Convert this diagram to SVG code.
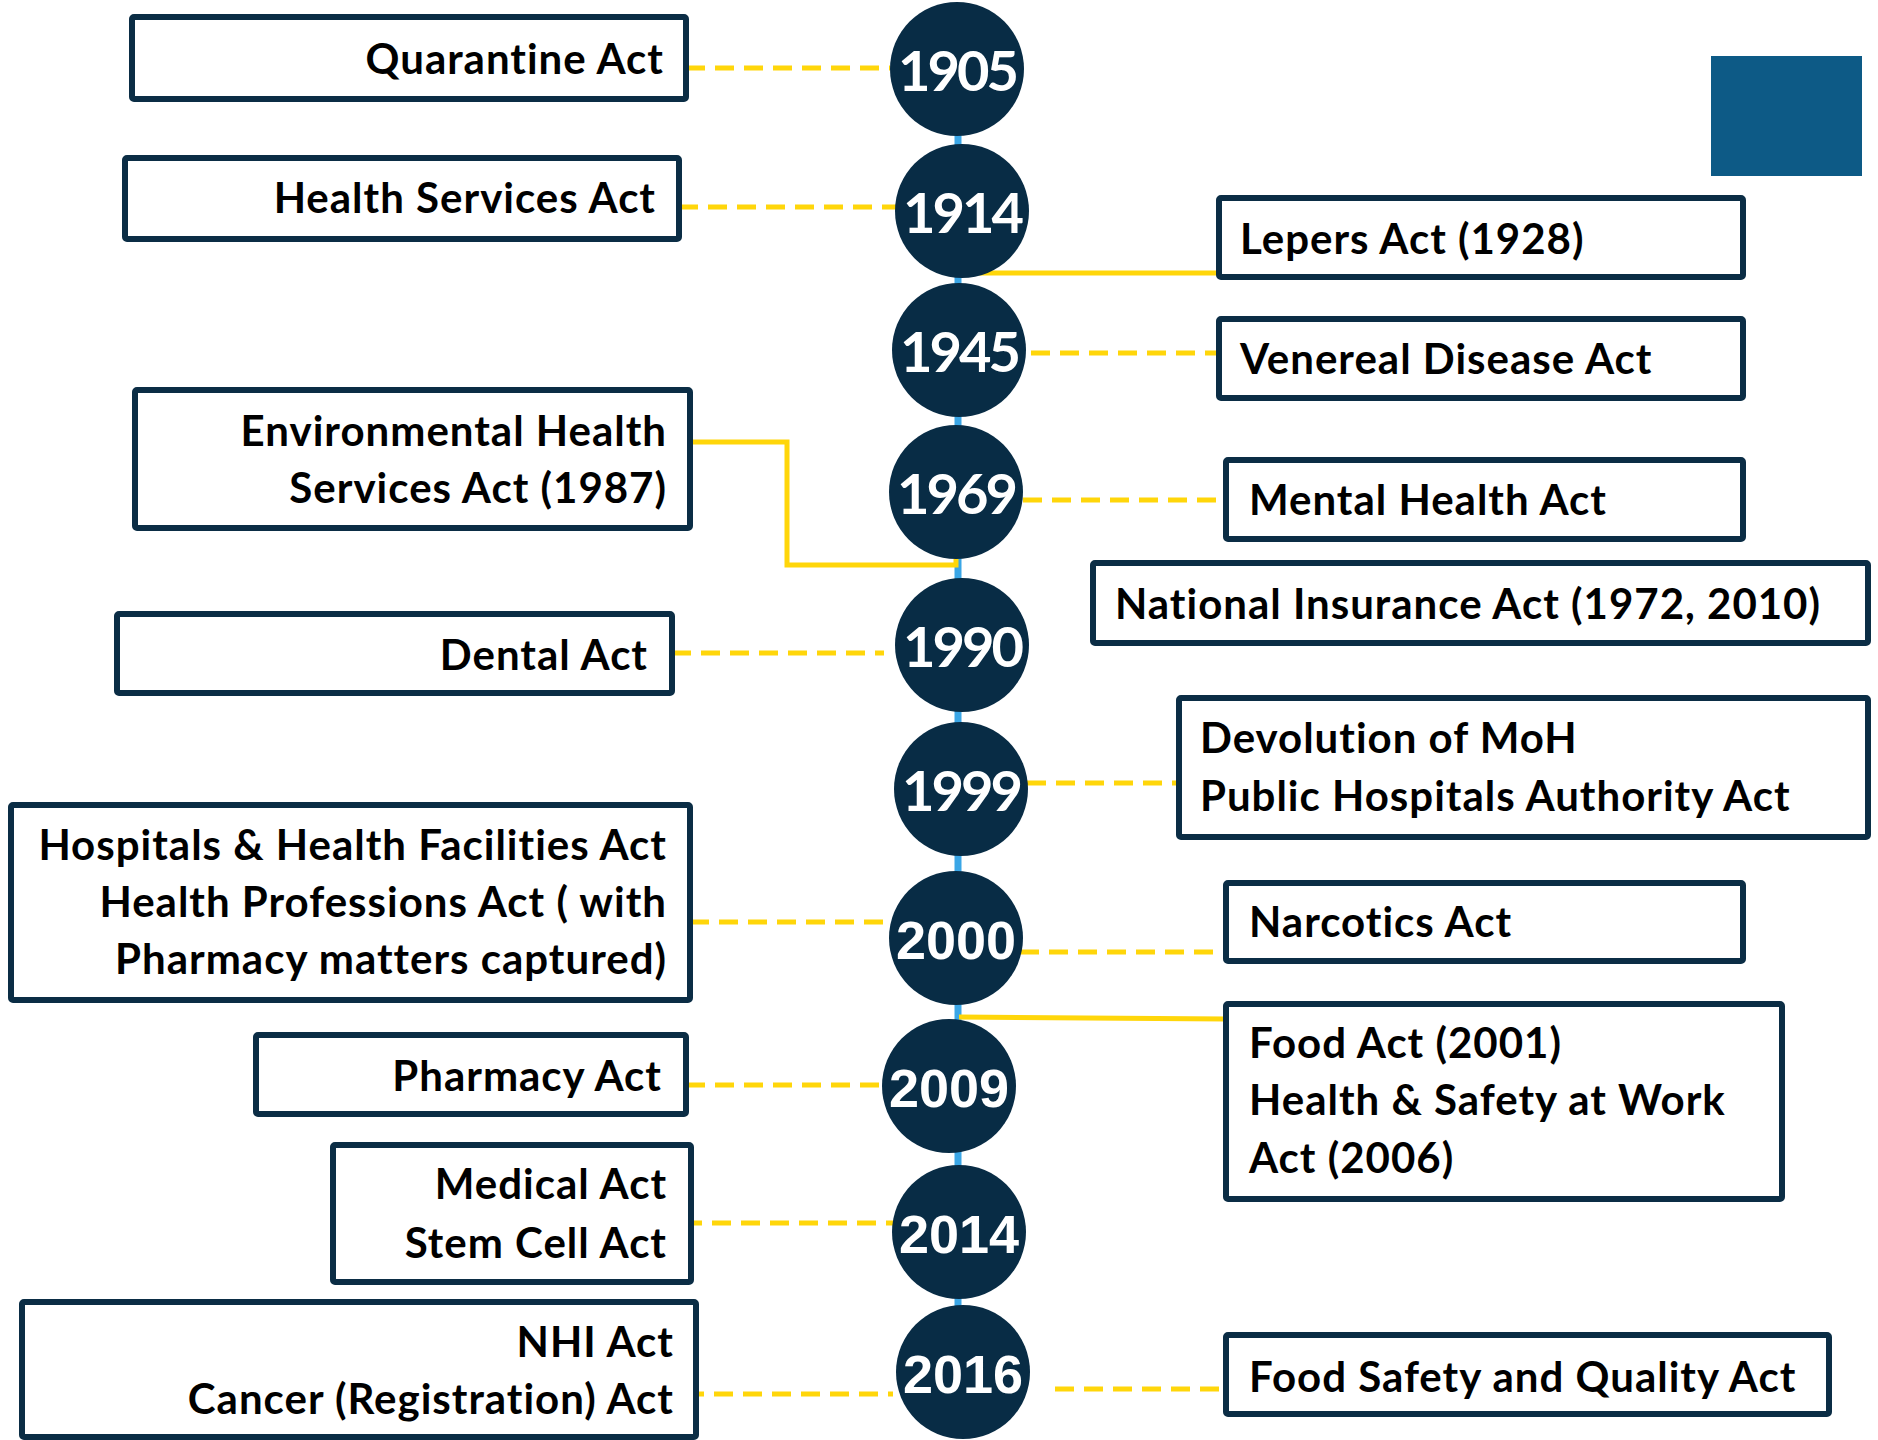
<svg xmlns="http://www.w3.org/2000/svg" width="1878" height="1440" viewBox="0 0 1878 1440">
<style>
.box{fill:#fff;stroke:#0b2d45;stroke-width:6;}
.t{font-family:Lato,"Liberation Sans",sans-serif;font-weight:700;font-size:42px;letter-spacing:1px;fill:#000;}
.l{text-anchor:end;}
.c{fill:#082c45;}
.y1{font-family:Lato,"Liberation Sans",sans-serif;font-weight:700;font-size:56px;fill:#fff;text-anchor:middle;letter-spacing:-3px;}
.y2{font-family:"Liberation Sans",Arial,sans-serif;font-weight:700;font-size:54px;fill:#fff;text-anchor:middle;}
.dash{fill:none;stroke:#ffd60a;stroke-width:5;stroke-dasharray:19 10;}
.solid{fill:none;stroke:#ffd60a;stroke-width:5;}
</style>
<rect x="0" y="0" width="1878" height="1440" fill="#fff"/>
<rect id="deco" x="1711" y="56" width="151" height="120" fill="#0d5a86"/>
<line x1="958" y1="130" x2="958" y2="1310" stroke="#3aa6e6" stroke-width="7"/>
<g id="connectors">
<line class="dash" x1="686" y1="68" x2="890" y2="68"/>
<line class="dash" x1="679" y1="207" x2="896" y2="207"/>
<line class="solid" x1="979" y1="273" x2="1219" y2="273"/>
<line class="dash" x1="1031" y1="353" x2="1219" y2="353"/>
<polyline class="solid" points="690,442 787,442 787,565 956,565 956,559"/>
<line class="dash" x1="1023" y1="500" x2="1226" y2="500"/>
<line class="dash" x1="672" y1="653" x2="884" y2="653"/>
<line class="dash" x1="1027" y1="783" x2="1179" y2="783"/>
<line class="dash" x1="690" y1="922" x2="886" y2="922"/>
<line class="dash" x1="1020" y1="952" x2="1226" y2="952"/>
<line class="solid" x1="959" y1="1017" x2="1226" y2="1019"/>
<line class="dash" x1="686" y1="1085" x2="884" y2="1085"/>
<line class="dash" x1="683" y1="1223" x2="893" y2="1223"/>
<line class="dash" x1="685" y1="1394" x2="893" y2="1394"/>
<line class="dash" x1="1055" y1="1389" x2="1226" y2="1389"/>
</g>
<g id="y1905"><circle class="c" cx="957" cy="69" r="67"/><text class="y1" x="957" y="91">1905</text></g>
<g id="y1914"><circle class="c" cx="962" cy="211" r="67"/><text class="y1" x="962" y="233">1914</text></g>
<g id="y1945"><circle class="c" cx="959" cy="350" r="67"/><text class="y1" x="959" y="372">1945</text></g>
<g id="y1969"><circle class="c" cx="956" cy="492" r="67"/><text class="y1" x="956" y="514">1969</text></g>
<g id="y1990"><circle class="c" cx="962" cy="645" r="67"/><text class="y1" x="962" y="667">1990</text></g>
<g id="y1999"><circle class="c" cx="961" cy="789" r="67"/><text class="y1" x="961" y="811">1999</text></g>
<g id="y2000"><circle class="c" cx="956" cy="938" r="67"/><text class="y2" x="956" y="959">2000</text></g>
<g id="y2009"><circle class="c" cx="949" cy="1086" r="67"/><text class="y2" x="949" y="1107">2009</text></g>
<g id="y2014"><circle class="c" cx="959" cy="1232" r="67"/><text class="y2" x="959" y="1253">2014</text></g>
<g id="y2016"><circle class="c" cx="963" cy="1372" r="67"/><text class="y2" x="963" y="1393">2016</text></g>

<g id="quarantine"><rect class="box" x="132" y="17" width="554" height="82" rx="2"/><text class="t l" x="664" y="74">Quarantine Act</text></g>
<g id="health-services"><rect class="box" x="125" y="158" width="554" height="81" rx="2"/><text class="t l" x="656" y="213">Health Services Act</text></g>
<g id="environmental"><rect class="box" x="135" y="390" width="555" height="138" rx="2"/><text class="t l" x="667" y="446">Environmental Health</text><text class="t l" x="667" y="503">Services Act (1987)</text></g>
<g id="dental"><rect class="box" x="117" y="614" width="555" height="79" rx="2"/><text class="t l" x="648" y="670">Dental Act</text></g>
<g id="hospitals"><rect class="box" x="11" y="805" width="679" height="195" rx="2"/><text class="t l" x="667" y="860">Hospitals &amp; Health Facilities Act</text><text class="t l" x="667" y="917">Health Professions Act ( with</text><text class="t l" x="667" y="974">Pharmacy matters captured)</text></g>
<g id="pharmacy"><rect class="box" x="256" y="1035" width="430" height="79" rx="2"/><text class="t l" x="662" y="1091">Pharmacy Act</text></g>
<g id="medical"><rect class="box" x="333" y="1145" width="358" height="137" rx="2"/><text class="t l" x="667" y="1199">Medical Act</text><text class="t l" x="667" y="1258">Stem Cell Act</text></g>
<g id="nhi"><rect class="box" x="22" y="1302" width="674" height="135" rx="2"/><text class="t l" x="674" y="1357">NHI Act</text><text class="t l" x="674" y="1414">Cancer (Registration) Act</text></g>

<g id="lepers"><rect class="box" x="1219" y="198" width="524" height="79" rx="2"/><text class="t" x="1240" y="254">Lepers Act (1928)</text></g>
<g id="venereal"><rect class="box" x="1219" y="319" width="524" height="79" rx="2"/><text class="t" x="1240" y="374">Venereal Disease Act</text></g>
<g id="mental"><rect class="box" x="1226" y="460" width="517" height="79" rx="2"/><text class="t" x="1249" y="515">Mental Health Act</text></g>
<g id="national-insurance"><rect class="box" x="1093" y="563" width="775" height="80" rx="2"/><text class="t" x="1115" y="619">National Insurance Act (1972, 2010)</text></g>
<g id="devolution"><rect class="box" x="1179" y="698" width="689" height="139" rx="2"/><text class="t" x="1200" y="753">Devolution of MoH</text><text class="t" x="1200" y="811">Public Hospitals Authority Act</text></g>
<g id="narcotics"><rect class="box" x="1226" y="883" width="517" height="78" rx="2"/><text class="t" x="1249" y="937">Narcotics Act</text></g>
<g id="food-act"><rect class="box" x="1226" y="1004" width="556" height="195" rx="2"/><text class="t" x="1249" y="1058">Food Act (2001)</text><text class="t" x="1249" y="1115">Health &amp; Safety at Work</text><text class="t" x="1249" y="1173">Act (2006)</text></g>
<g id="food-safety"><rect class="box" x="1226" y="1335" width="603" height="79" rx="2"/><text class="t" x="1249" y="1392">Food Safety and Quality Act</text></g>
</svg>
